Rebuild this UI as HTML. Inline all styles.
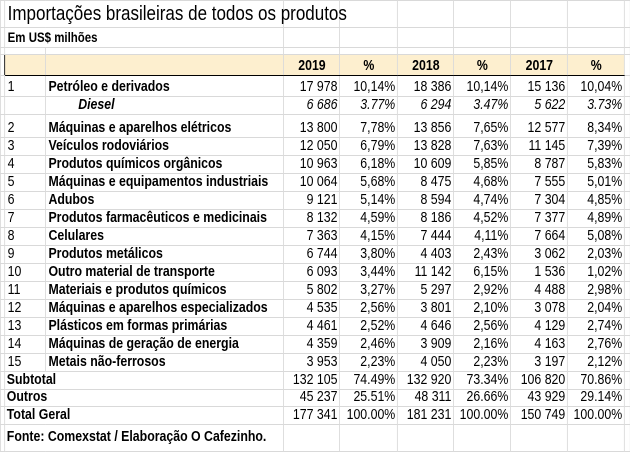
<!DOCTYPE html>
<html><head><meta charset="utf-8">
<style>
html,body{margin:0;padding:0;background:#fff;width:630px;height:452px;overflow:hidden}
table{position:absolute;left:0;top:0;width:741px;border-collapse:collapse;table-layout:fixed;font-family:"Liberation Sans",sans-serif;font-size:14.5px;color:#000;transform:scaleX(0.85);transform-origin:0 0}
td{border:1px solid #d9d9d9;padding:0 2px 1px 3px;vertical-align:bottom;white-space:nowrap;overflow:visible;line-height:15px}
td.n{text-align:right}
td.c{text-align:center}
.b{font-weight:bold}
.i{font-style:italic}
tr.h td{background:#fdefcf;font-weight:bold;border-top:1.5px solid #000;border-bottom:1.5px solid #000}
</style></head><body>
<table>
<colgroup><col style="width:5px"><col style="width:48px"><col style="width:280px"><col style="width:66px"><col style="width:68px"><col style="width:66px"><col style="width:67px"><col style="width:67px"><col style="width:67px"><col style="width:7px"></colgroup>
<tr style="height:27px"><td></td><td colspan="2" style="font-size:20px;line-height:22px;vertical-align:middle">Importações brasileiras de todos os produtos</td><td></td><td></td><td></td><td></td><td></td><td></td><td></td></tr>
<tr style="height:20px"><td></td><td colspan="2" class="b" style="font-size:13.5px;vertical-align:middle">Em US$ milhões</td><td></td><td></td><td></td><td></td><td></td><td></td><td></td></tr>
<tr style="height:7px"><td></td><td></td><td></td><td></td><td></td><td></td><td></td><td></td><td></td><td></td></tr>
<tr class="h" style="height:21px"><td style="background:#fff;border-top:1px solid #d9d9d9;border-bottom:1px solid #d9d9d9;border-right:1.5px solid #000"></td><td></td><td></td><td class="c">2019</td><td class="c">%</td><td class="c">2018</td><td class="c">%</td><td class="c">2017</td><td class="c">%</td><td style="background:#fff;border-top:1px solid #d9d9d9;border-bottom:1px solid #d9d9d9;border-left:1.5px solid #000"></td></tr>
<tr style="height:21px"><td></td><td>1</td><td class="b">Petróleo e derivados</td><td class="n">17 978</td><td class="n">10,14%</td><td class="n">18 386</td><td class="n">10,14%</td><td class="n">15 136</td><td class="n">10,04%</td><td></td></tr>
<tr style="height:18px"><td></td><td></td><td class="b i" style="padding-left:38px">Diesel</td><td class="n i">6 686</td><td class="n i">3.77%</td><td class="n i">6 294</td><td class="n i">3.47%</td><td class="n i">5 622</td><td class="n i">3.73%</td><td></td></tr>
<tr style="height:23px"><td></td><td>2</td><td class="b">Máquinas e aparelhos elétricos</td><td class="n">13 800</td><td class="n">7,78%</td><td class="n">13 856</td><td class="n">7,65%</td><td class="n">12 577</td><td class="n">8,34%</td><td></td></tr>
<tr style="height:18px"><td></td><td>3</td><td class="b">Veículos rodoviários</td><td class="n">12 050</td><td class="n">6,79%</td><td class="n">13 828</td><td class="n">7,63%</td><td class="n">11 145</td><td class="n">7,39%</td><td></td></tr>
<tr style="height:18px"><td></td><td>4</td><td class="b">Produtos químicos orgânicos</td><td class="n">10 963</td><td class="n">6,18%</td><td class="n">10 609</td><td class="n">5,85%</td><td class="n">8 787</td><td class="n">5,83%</td><td></td></tr>
<tr style="height:18px"><td></td><td>5</td><td class="b">Máquinas e equipamentos industriais</td><td class="n">10 064</td><td class="n">5,68%</td><td class="n">8 475</td><td class="n">4,68%</td><td class="n">7 555</td><td class="n">5,01%</td><td></td></tr>
<tr style="height:18px"><td></td><td>6</td><td class="b">Adubos</td><td class="n">9 121</td><td class="n">5,14%</td><td class="n">8 594</td><td class="n">4,74%</td><td class="n">7 304</td><td class="n">4,85%</td><td></td></tr>
<tr style="height:18px"><td></td><td>7</td><td class="b">Produtos farmacêuticos e medicinais</td><td class="n">8 132</td><td class="n">4,59%</td><td class="n">8 186</td><td class="n">4,52%</td><td class="n">7 377</td><td class="n">4,89%</td><td></td></tr>
<tr style="height:18px"><td></td><td>8</td><td class="b">Celulares</td><td class="n">7 363</td><td class="n">4,15%</td><td class="n">7 444</td><td class="n">4,11%</td><td class="n">7 664</td><td class="n">5,08%</td><td></td></tr>
<tr style="height:18px"><td></td><td>9</td><td class="b">Produtos metálicos</td><td class="n">6 744</td><td class="n">3,80%</td><td class="n">4 403</td><td class="n">2,43%</td><td class="n">3 062</td><td class="n">2,03%</td><td></td></tr>
<tr style="height:18px"><td></td><td>10</td><td class="b">Outro material de transporte</td><td class="n">6 093</td><td class="n">3,44%</td><td class="n">11 142</td><td class="n">6,15%</td><td class="n">1 536</td><td class="n">1,02%</td><td></td></tr>
<tr style="height:18px"><td></td><td>11</td><td class="b">Materiais e produtos químicos</td><td class="n">5 802</td><td class="n">3,27%</td><td class="n">5 297</td><td class="n">2,92%</td><td class="n">4 488</td><td class="n">2,98%</td><td></td></tr>
<tr style="height:18px"><td></td><td>12</td><td class="b">Máquinas e aparelhos especializados</td><td class="n">4 535</td><td class="n">2,56%</td><td class="n">3 801</td><td class="n">2,10%</td><td class="n">3 078</td><td class="n">2,04%</td><td></td></tr>
<tr style="height:18px"><td></td><td>13</td><td class="b">Plásticos em formas primárias</td><td class="n">4 461</td><td class="n">2,52%</td><td class="n">4 646</td><td class="n">2,56%</td><td class="n">4 129</td><td class="n">2,74%</td><td></td></tr>
<tr style="height:18px"><td></td><td>14</td><td class="b">Máquinas de geração de energia</td><td class="n">4 359</td><td class="n">2,46%</td><td class="n">3 909</td><td class="n">2,16%</td><td class="n">4 163</td><td class="n">2,76%</td><td></td></tr>
<tr style="height:18px"><td></td><td>15</td><td class="b">Metais não-ferrosos</td><td class="n">3 953</td><td class="n">2,23%</td><td class="n">4 050</td><td class="n">2,23%</td><td class="n">3 197</td><td class="n">2,12%</td><td></td></tr>
<tr style="height:18px"><td></td><td colspan="2" class="b" style="padding-left:2px">Subtotal</td><td class="n">132 105</td><td class="n">74.49%</td><td class="n">132 920</td><td class="n">73.34%</td><td class="n">106 820</td><td class="n">70.86%</td><td></td></tr>
<tr style="height:17px"><td></td><td colspan="2" class="b" style="padding-left:2px">Outros</td><td class="n">45 237</td><td class="n">25.51%</td><td class="n">48 311</td><td class="n">26.66%</td><td class="n">43 929</td><td class="n">29.14%</td><td></td></tr>
<tr style="height:18px"><td></td><td colspan="2" class="b" style="padding-left:2px">Total Geral</td><td class="n">177 341</td><td class="n">100.00%</td><td class="n">181 231</td><td class="n">100.00%</td><td class="n">150 749</td><td class="n">100.00%</td><td></td></tr>
<tr style="height:27px"><td></td><td colspan="2" class="b" style="padding-left:2px;vertical-align:middle">Fonte: Comexstat / Elaboração O Cafezinho.</td><td></td><td></td><td></td><td></td><td></td><td></td><td></td></tr>
</table>
</body></html>
